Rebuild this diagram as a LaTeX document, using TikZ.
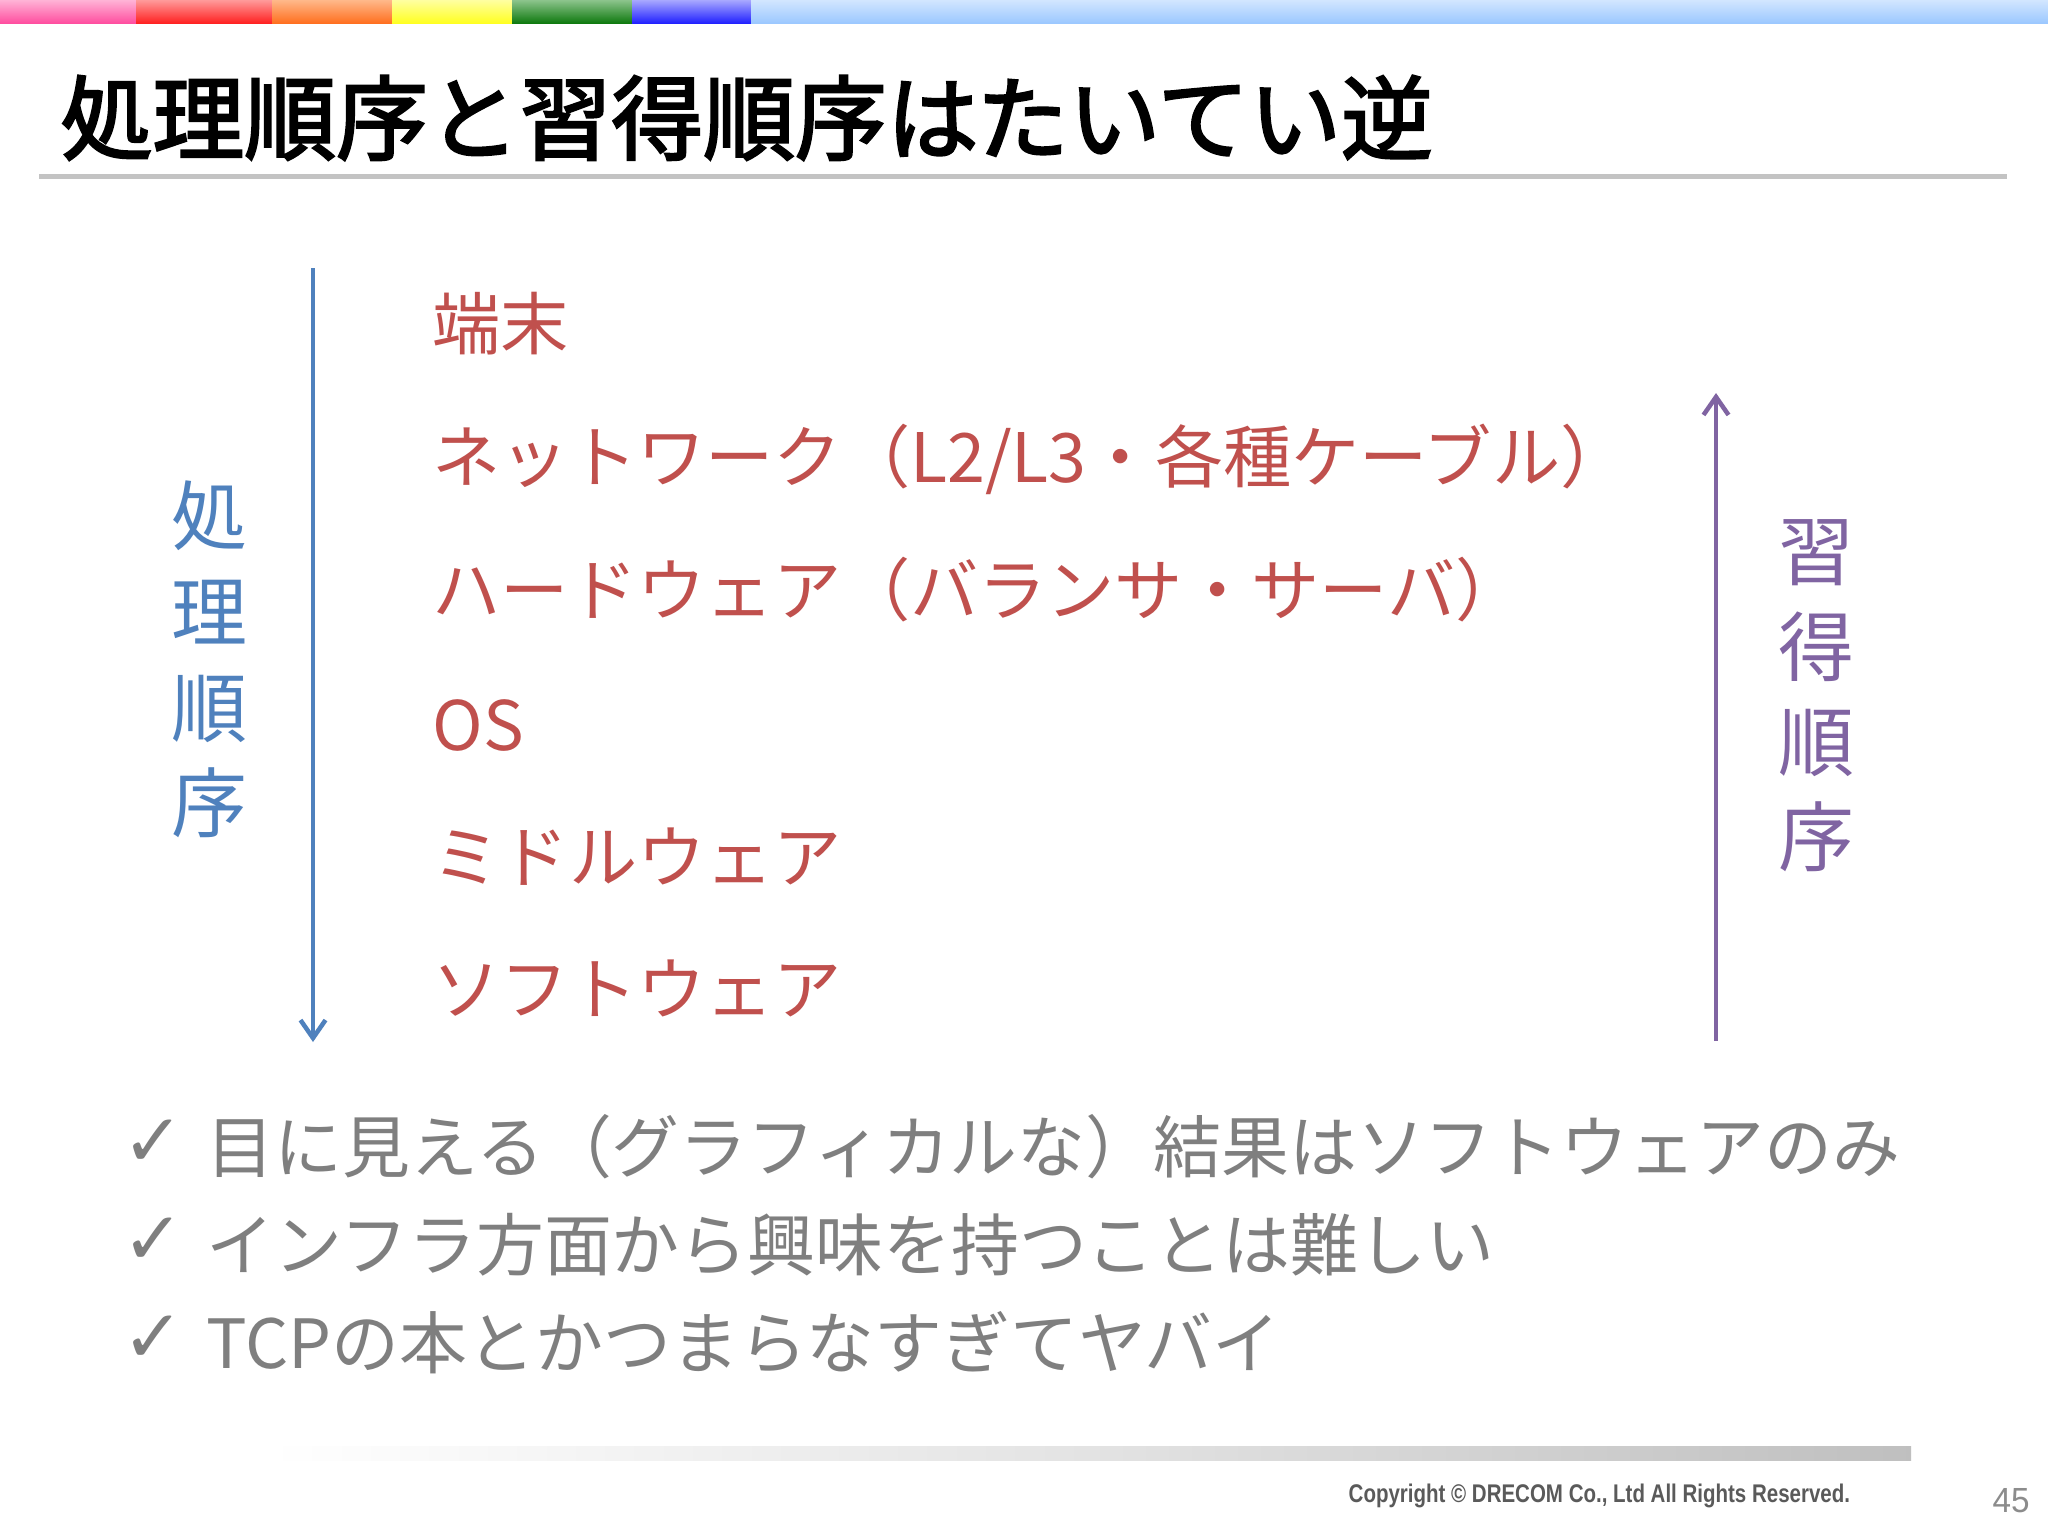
\documentclass[tikz,border=0pt]{standalone}
\usepackage{graphicx}
\usepackage{fontspec}
\setmainfont{Noto Sans CJK JP}
\newfontfamily\titlefont[FakeBold=2.6]{Noto Sans CJK JP}
\newfontfamily\dejavu{DejaVu Sans}
\newfontfamily\lib{Liberation Sans}
\usetikzlibrary{arrows.meta}
\definecolor{cblue}{HTML}{4F81BD}
\definecolor{cpurple}{HTML}{8064A2}
\definecolor{cred}{HTML}{C0504D}
\definecolor{cgray}{HTML}{7F7F7F}
\definecolor{cline}{HTML}{C3C3C3}
\definecolor{ccopy}{HTML}{5A5A5A}
\definecolor{cpage}{HTML}{8C8C8C}
\definecolor{pinkT}{HTML}{FFB3D6}\definecolor{pinkB}{HTML}{FF4FA0}
\definecolor{redT}{HTML}{FF9A9A}\definecolor{redB}{HTML}{FF2222}
\definecolor{oraT}{HTML}{FFB88A}\definecolor{oraB}{HTML}{FF7020}
\definecolor{yelT}{HTML}{FFFFA0}\definecolor{yelB}{HTML}{FFFF22}
\definecolor{grnT}{HTML}{8CC48C}\definecolor{grnB}{HTML}{107A10}
\definecolor{bluT}{HTML}{A8A8FF}\definecolor{bluB}{HTML}{2222FF}
\definecolor{skyT}{HTML}{D2E6FF}\definecolor{skyB}{HTML}{9CC8FF}
\begin{document}
\begin{tikzpicture}[x=0.01cm,y=-0.01cm,
  lbl/.style={inner sep=0pt, anchor=west},
  item/.style={lbl, text=cred, text height=17.07pt, text depth=2.33pt, font=\fontsize{19.4pt}{23pt}\selectfont},
  bul/.style={lbl, text=cgray, text height=16.98pt, text depth=2.32pt, font=\fontsize{19.3pt}{23pt}\selectfont},
  chk/.style={inner sep=0pt, text=cgray, font=\dejavu\fontsize{21pt}{24pt}\selectfont},
  vlbl/.style={inner sep=0pt, text height=19pt, text depth=2.6pt, font=\fontsize{21.6pt}{24pt}\selectfont},
  arr/.style={line width=0.045cm, -{Straight Barb[length=0.18cm,width=0.25cm]}}
]
\useasboundingbox[fill=white] (0,0) rectangle (2048,1536);
% top colour bar
\shade[top color=pinkT, bottom color=pinkB] (0,0) rectangle (136,23);
\shade[top color=redT, bottom color=redB] (136,0) rectangle (272,23);
\shade[top color=oraT, bottom color=oraB] (272,0) rectangle (392,23);
\shade[top color=yelT, bottom color=yelB] (392,0) rectangle (512,23);
\shade[top color=grnT, bottom color=grnB] (512,0) rectangle (632,23);
\shade[top color=bluT, bottom color=bluB] (632,0) rectangle (751,23);
\shade[top color=skyT, bottom color=skyB] (751,0) rectangle (2048,23);
% title
\node[lbl, text height=22.8pt, text depth=3.1pt, font=\titlefont\fontsize{26.1pt}{30pt}\selectfont] (title) at (60,118) {処理順序と習得順序はたいてい逆};
\draw[line width=0.05cm, cline] (39,176) -- (2007,176);
% left arrow and label
\coordinate (ltop) at (313,268);
\coordinate (lbot) at (313,1042);
\draw[arr, cblue] (ltop) -- (lbot);
\foreach \c/\y [count=\i] in {処/516,理/612,順/708,序/803}
  \node[vlbl, text=cblue] (L\i) at (209,\y) {\c};
% right arrow and label
\coordinate (rbot) at (1716,1041);
\coordinate (rtop) at (1716,393);
\draw[arr, cpurple] (rbot) -- (rtop);
\foreach \c/\y [count=\i] in {習/551,得/647,順/742,序/837}
  \node[vlbl, text=cpurple] (R\i) at (1816,\y) {\c};
% layer items
\node[item] (i1) at (432,324) {端末};
\node[item] (i2) at (432,457) {ネットワーク（L2/L3・各種ケーブル）};
\node[item] (i3) at (432,590) {ハードウェア（バランサ・サーバ）};
\node[item] (i4) at (432,725) {OS};
\node[item] (i5) at (432,857) {ミドルウェア};
\node[item] (i6) at (432,989) {ソフトウェア};
% bullets
\node[chk] (c1) at (153,1143) {✓};
\node[chk] (c2) at (153,1241) {✓};
\node[chk] (c3) at (153,1339) {✓};
\node[bul] (b1) at (206,1147) {目に見える（グラフィカルな）結果はソフトウェアのみ};
\node[bul] (b2) at (206,1245) {インフラ方面から興味を持つことは難しい};
\node[bul] (b3) at (206,1343) {TCPの本とかつまらなすぎてヤバイ};
% footer
\shade[left color=white, right color=gray!50, middle color=gray!22] (268,1446) rectangle (1911,1460);
\node[inner sep=0pt, anchor=base west, text=ccopy] (copy) at (1348,1502)
  {\resizebox{5.01cm}{0.185cm}{\lib\bfseries Copyright © DRECOM Co., Ltd All Rights Reserved.}};
\node[inner sep=0pt, anchor=base west, text=cpage] (page) at (1992,1512)
  {\resizebox{0.37cm}{0.24cm}{\lib 45}};
\end{tikzpicture}
\end{document}
